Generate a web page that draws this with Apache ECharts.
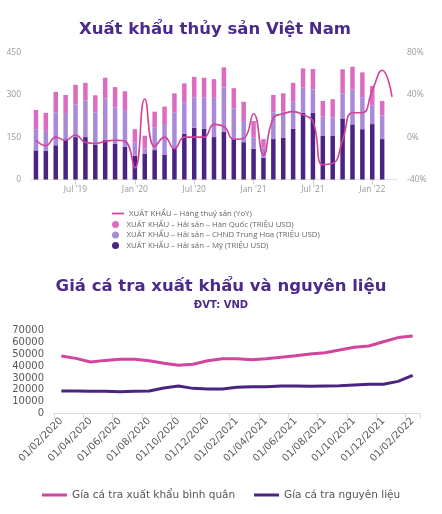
<!DOCTYPE html>
<html>
<head>
<meta charset="utf-8">
<script src="https://cdn.jsdelivr.net/npm/echarts@6/dist/echarts.min.js"></script>
<style>
html,body{margin:0;padding:0;background:#fff;}
#c{width:442px;height:514px;}
</style>
</head>
<body>
<div id="c"></div>
<script>
// ---- Chart 1 data: Xuất khẩu thủy sản Việt Nam (Mar 2019 – Mar 2022) ----
const monthNames = ['Jan','Feb','Mar','Apr','May','Jun','Jul','Aug','Sep','Oct','Nov','Dec'];
const months1 = [];
for (let i = 0; i < 37; i++) {
  const m = (2 + i) % 12, y = 2019 + Math.floor((2 + i) / 12);
  months1.push(monthNames[m] + " '" + String(y).slice(2));
}
const usVals = [103,102,121,140,150,150,124,141,127,116,84,91,104,88,110,162,183,180,150,169,142,132,109,77,143,148,179,236,236,154,154,216,195,178,196,143];
const cnVals = [75,70,117,95,116,130,113,146,128,127,46,19,81,108,128,110,108,111,139,156,110,75,40,37,95,92,96,89,83,68,65,89,123,113,65,83];
const krVals = [68,64,72,64,69,62,61,73,72,69,48,45,55,62,67,68,72,69,66,72,71,68,58,29,61,65,67,68,72,56,65,85,81,88,70,52];
const yoyVals = [-3,-8,0,-3,2,-5,-6,-4,-3,-4,-29,36,-9,0,-11,0,0,0,12,10,-2,-1,22,-17,18,22,24,21,15,-26,-25,-3,23,23,44,63,38];
const leftTicks = [0,150,300,450];
const rightTicks = [-40,0,40,80];

// ---- Chart 2 data: Giá cá tra (VND) ----
const dates2 = ['01/02/2020','01/03/2020','01/04/2020','01/05/2020','01/06/2020','01/07/2020','01/08/2020','01/09/2020','01/10/2020','01/11/2020','01/12/2020','01/01/2021','01/02/2021','01/03/2021','01/04/2021','01/05/2021','01/06/2021','01/07/2021','01/08/2021','01/09/2021','01/10/2021','01/11/2021','01/12/2021','01/01/2022','01/02/2022'];
const exportPrice = [48500,46500,43400,44800,45700,45700,44500,42300,40600,41500,44500,46200,46200,45400,46200,47400,48700,50200,51300,53500,55800,56900,60500,64000,65300];
const rawPrice = [19000,19000,18700,18700,18400,18700,19000,21500,23200,21200,20600,20600,22100,22600,22600,23200,23200,22900,23200,23400,24000,24600,24600,27100,32200];

const C_US = '#4b2382', C_CN = '#a98ad8', C_KR = '#dc6cc0', C_YOY = '#d4409a';
const C_EXP = '#d0459e', C_RAW = '#4a2580', C_TITLE = '#4b2a8a';
const F1 = 'Open Sans', F2 = 'DejaVu Sans';

const chart = echarts.init(document.getElementById('c'), null, {renderer: 'canvas'});
function lg(name, top, left, icon, opts) {
  return Object.assign({
    show: true, top: top, left: left, padding: 0, orient: 'horizontal',
    data: [{name: name, icon: icon}], selectedMode: false,
    itemWidth: 12, itemHeight: 7,
    textStyle: {fontFamily: F1, fontSize: 7.8, color: '#666', lineHeight: 8}
  }, opts || {});
}
const thinLine = 'path://M0,0L24,0L24,3.5L0,3.5Z';
const thickLine = 'path://M0,0L25,0L25,3L0,3Z';
chart.setOption({
  animation: false,
  title: [
    {text: 'Xuất khẩu thủy sản Việt Nam', left: 79, top: 21, padding: 0,
     textStyle: {fontFamily: F2, fontWeight: 'bold', fontSize: 16.5, color: C_TITLE}},
    {text: 'Giá cá tra xuất khẩu và nguyên liệu', left: 'center', top: 278, padding: 0,
     textStyle: {fontFamily: F2, fontWeight: 'bold', fontSize: 16.5, color: C_TITLE}},
    {text: 'ĐVT: VND', left: 'center', top: 300, padding: 0,
     textStyle: {fontFamily: F2, fontWeight: 'bold', fontSize: 10, color: C_TITLE}}
  ],
  legend: [
    lg('XUẤT KHẨU – Hàng thuỷ sản (YoY)', 209.5, 112, thinLine),
    lg('XUẤT KHẨU – Hải sản – Hàn Quốc (TRIỆU USD)', 220.5, 112, 'circle'),
    lg('XUẤT KHẨU – Hải sản – CHND Trung Hoa (TRIỆU USD)', 231, 112, 'circle'),
    lg('XUẤT KHẨU – Hải sản – Mỹ (TRIỆU USD)', 241.5, 112, 'circle'),
    lg('Gía cá tra xuất khẩu bình quân', 489, 42, thickLine,
       {itemWidth: 25, itemHeight: 12, textStyle: {fontFamily: F2, fontSize: 10.5, color: '#555', lineHeight: 12}}),
    lg('Gía cá tra nguyên liệu', 489, 254, thickLine,
       {itemWidth: 25, itemHeight: 12, textStyle: {fontFamily: F2, fontSize: 10.5, color: '#555', lineHeight: 12}})
  ],
  grid: [
    {left: 31, right: 45, top: 52.3, height: 127.2},
    {left: 54, right: 22, top: 330.5, height: 83}
  ],
  xAxis: [
    {type: 'category', gridIndex: 0, data: months1, boundaryGap: true,
     axisLine: {show: true, lineStyle: {color: '#e2e2e2', width: 1}},
     axisTick: {show: true, alignWithLabel: true, length: 5, lineStyle: {color: '#cfcfcf'},
                interval: (i) => i >= 4 && (i - 4) % 6 === 0},
     axisLabel: {interval: (i) => i >= 4 && (i - 4) % 6 === 0, margin: 6,
                 fontFamily: F1, fontSize: 8.5, color: '#999'}},
    {type: 'category', gridIndex: 1, data: dates2, boundaryGap: true,
     axisLine: {show: true, lineStyle: {color: '#d9d9d9', width: 1}},
     axisTick: {show: true, interval: 1, length: 5, lineStyle: {color: '#d9d9d9'}},
     axisLabel: {interval: 1, rotate: 45, margin: 6, fontFamily: F2, fontSize: 10, color: '#595959'}}
  ],
  yAxis: [
    {type: 'value', gridIndex: 0, min: leftTicks[0], max: leftTicks[leftTicks.length-1], interval: 150,
     splitLine: {show: false}, axisLine: {show: false}, axisTick: {show: false},
     axisLabel: {margin: 10, fontFamily: F1, fontSize: 8.5, color: '#999'}},
    {type: 'value', gridIndex: 0, position: 'right', min: rightTicks[0], max: rightTicks[rightTicks.length-1], interval: 40,
     splitLine: {show: false}, axisLine: {show: false}, axisTick: {show: false},
     axisLabel: {margin: 10, formatter: '{value}%', fontFamily: F1, fontSize: 8.5, color: '#999'}},
    {type: 'value', gridIndex: 1, min: 0, max: 70000, interval: 10000,
     splitLine: {show: false}, axisLine: {show: false}, axisTick: {show: false},
     axisLabel: {margin: 10, formatter: (v) => String(v), fontFamily: F2, fontSize: 10, color: '#595959'}}
  ],
  series: [
    {name: 'XUẤT KHẨU – Hải sản – Mỹ (TRIỆU USD)', type: 'bar', stack: 's', xAxisIndex: 0, yAxisIndex: 0,
     data: usVals, barWidth: 4.5, itemStyle: {color: C_US}},
    {name: 'XUẤT KHẨU – Hải sản – CHND Trung Hoa (TRIỆU USD)', type: 'bar', stack: 's', xAxisIndex: 0, yAxisIndex: 0,
     data: cnVals, barWidth: 4.5, itemStyle: {color: C_CN}},
    {name: 'XUẤT KHẨU – Hải sản – Hàn Quốc (TRIỆU USD)', type: 'bar', stack: 's', xAxisIndex: 0, yAxisIndex: 0,
     data: krVals, barWidth: 4.5, itemStyle: {color: C_KR}},
    {name: 'XUẤT KHẨU – Hàng thuỷ sản (YoY)', type: 'line', xAxisIndex: 0, yAxisIndex: 1,
     data: yoyVals, smooth: 0.5, symbol: 'none', lineStyle: {color: C_YOY, width: 1.6}, itemStyle: {color: C_YOY}, z: 5},
    {name: 'Gía cá tra xuất khẩu bình quân', type: 'line', xAxisIndex: 1, yAxisIndex: 2,
     data: exportPrice, symbol: 'none', lineStyle: {color: C_EXP, width: 3}, itemStyle: {color: C_EXP}},
    {name: 'Gía cá tra nguyên liệu', type: 'line', xAxisIndex: 1, yAxisIndex: 2,
     data: rawPrice, symbol: 'none', lineStyle: {color: C_RAW, width: 3}, itemStyle: {color: C_RAW}}
  ]
});
</script>
</body>
</html>
